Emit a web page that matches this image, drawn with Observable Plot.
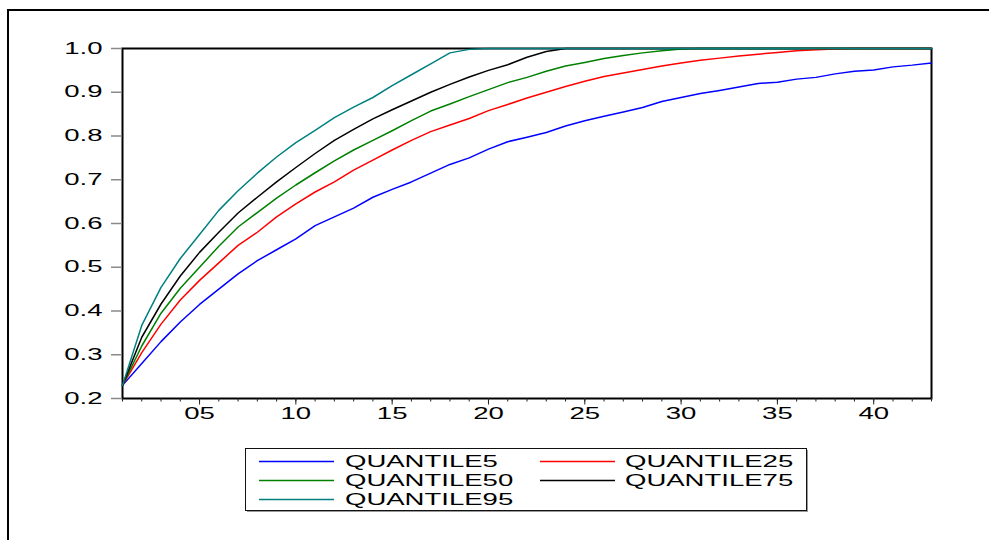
<!DOCTYPE html>
<html>
<head>
<meta charset="utf-8">
<script src="https://cdn.jsdelivr.net/npm/d3@7"></script>
<script src="https://cdn.jsdelivr.net/npm/@observablehq/plot@0.6"></script>
<style>
  html, body { margin: 0; padding: 0; background: #fff; }
  #page { position: relative; width: 989px; height: 540px; overflow: hidden; background: #fff;
          font-family: "Liberation Sans", Arial, sans-serif; color: #000; }
  #outer { position: absolute; left: 7px; top: 9px; right: -10px; bottom: -10px;
           border-left: 2px solid #000; border-top: 2px solid #000; }
  #chart { position: absolute; left: 0; top: 0; }
  #legend { position: absolute; left: 245px; top: 448px; }
</style>
</head>
<body>
<div id="page">
  <div id="outer"></div>
  <div id="chart"></div>
  <div id="legend"></div>
</div>
<script>
// Horizon 1..43 and the quantiles of the cumulative share
const steps = d3.range(1, 44);

const q5 = [0.23, 0.28, 0.33, 0.375, 0.415, 0.45, 0.485, 0.515, 0.54, 0.565,
            0.595, 0.615, 0.635, 0.66, 0.678, 0.695, 0.715, 0.735, 0.75, 0.77,
            0.787, 0.797, 0.808, 0.823, 0.835, 0.845, 0.855, 0.865, 0.879, 0.888,
            0.897, 0.904, 0.912, 0.92, 0.923, 0.93, 0.934, 0.942, 0.948, 0.951,
            0.958, 0.962, 0.967];
const q25 = [0.23, 0.305, 0.37, 0.425, 0.47, 0.51, 0.55, 0.58, 0.615, 0.645,
             0.672, 0.695, 0.722, 0.745, 0.768, 0.79, 0.81, 0.825, 0.84, 0.858,
             0.872, 0.887, 0.9, 0.913, 0.925, 0.936, 0.944, 0.952, 0.96, 0.967,
             0.973, 0.978, 0.983, 0.987, 0.991, 0.995, 0.997, 0.999, 1.0, 1.0,
             1.0, 1.0, 1.0];
const q50 = [0.23, 0.32, 0.395, 0.452, 0.5, 0.548, 0.592, 0.625, 0.658, 0.688,
             0.716, 0.743, 0.768, 0.79, 0.812, 0.835, 0.857, 0.873, 0.89, 0.906,
             0.922, 0.934, 0.948, 0.96, 0.968, 0.977, 0.984, 0.99, 0.995, 0.999,
             1.0, 1.0, 1.0, 1.0, 1.0, 1.0, 1.0, 1.0, 1.0, 1.0,
             1.0, 1.0, 1.0];
const q75 = [0.23, 0.34, 0.416, 0.48, 0.534, 0.58, 0.624, 0.66, 0.695, 0.728,
             0.76, 0.79, 0.815, 0.839, 0.86, 0.88, 0.9, 0.918, 0.935, 0.95,
             0.963, 0.98, 0.993, 1.0, 1.0, 1.0, 1.0, 1.0, 1.0, 1.0,
             1.0, 1.0, 1.0, 1.0, 1.0, 1.0, 1.0, 1.0, 1.0, 1.0,
             1.0, 1.0, 1.0];
const q95 = [0.23, 0.367, 0.454, 0.52, 0.575, 0.63, 0.675, 0.715, 0.752, 0.785,
             0.813, 0.842, 0.866, 0.888, 0.915, 0.94, 0.965, 0.99, 0.998, 1.0,
             1.0, 1.0, 1.0, 1.0, 1.0, 1.0, 1.0, 1.0, 1.0, 1.0,
             1.0, 1.0, 1.0, 1.0, 1.0, 1.0, 1.0, 1.0, 1.0, 1.0,
             1.0, 1.0, 1.0];

const seriesNames = ["QUANTILE5", "QUANTILE25", "QUANTILE50", "QUANTILE75", "QUANTILE95"];
const seriesValues = [q5, q25, q50, q75, q95];
const seriesColors = ["#0000ff", "#ff0000", "#008000", "#000000", "#008080"];

const yTicks = [0.2, 0.3, 0.4, 0.5, 0.6, 0.7, 0.8, 0.9, 1.0];
const xMajorTicks = [5, 10, 15, 20, 25, 30, 35, 40];
const xTickLabels = ["05", "10", "15", "20", "25", "30", "35", "40"];

const rows = seriesNames.flatMap((name, i) =>
  steps.map((t, j) => ({series: name, step: t, value: seriesValues[i][j]})));

const fontStack = "Liberation Sans, Arial, sans-serif";

const chart = Plot.plot({
  width: 989,
  height: 430,
  marginLeft: 122,
  marginRight: 58,
  marginTop: 48,
  marginBottom: 32,
  style: {fontFamily: fontStack, fontSize: "16px", color: "#000", background: "transparent"},
  x: {domain: [1, 43]},
  y: {domain: [0.2, 1.0]},
  color: {domain: seriesNames, range: seriesColors},
  marks: [
    Plot.frame({stroke: "#000", strokeWidth: 2}),
    Plot.axisY(yTicks, {tickSize: 11, tickPadding: 9, tickFormat: d3.format(".1f"),
                        stroke: "#8a8a8a", strokeWidth: 1.5, fill: "#000", label: null, fontSize: 16}),
    Plot.axisX(steps, {tickSize: 3.5, tickFormat: () => "", label: null, stroke: "#222"}),
    Plot.axisX(xMajorTicks, {tickSize: 6.5, tickPadding: 3,
                             tickFormat: d => xTickLabels[xMajorTicks.indexOf(d)],
                             label: null, stroke: "#222", fill: "#000", fontSize: 16}),
    Plot.line(rows, {x: "step", y: "value", z: "series", stroke: "series", strokeWidth: 1.5})
  ]
});
document.getElementById("chart").appendChild(chart);

// widen text horizontally, keeping its anchor
function widen(sel) {
  sel.each(function () {
    if (!this.textContent) return;
    const len = this.getComputedTextLength();
    this.setAttribute("textLength", (len * 1.72).toFixed(1));
    this.setAttribute("lengthAdjust", "spacingAndGlyphs");
  });
}
widen(d3.select(chart).selectAll("text"));

// legend: boxed, two columns filled row by row
const lw = 564, lh = 65;
const legend = d3.select("#legend").append("svg")
  .attr("width", lw).attr("height", lh)
  .style("font-family", fontStack).style("font-size", "16px");
legend.append("rect").attr("x", 2).attr("y", 2).attr("width", lw - 3).attr("height", lh - 3).attr("fill", "#999");
legend.append("rect").attr("x", 0.5).attr("y", 0.5).attr("width", lw - 3).attr("height", lh - 3)
  .attr("fill", "#fff").attr("stroke", "#111");
const colKey = [14, 295], colText = [100, 380], rowY = [13, 32, 51];
seriesNames.forEach((name, i) => {
  const c = i % 2, r = Math.floor(i / 2);
  legend.append("line")
    .attr("x1", colKey[c]).attr("x2", colKey[c] + 75)
    .attr("y1", rowY[r] + 0.5).attr("y2", rowY[r] + 0.5)
    .attr("stroke", seriesColors[i]).attr("stroke-width", 1.5);
  legend.append("text")
    .attr("x", colText[c]).attr("y", rowY[r]).attr("dy", "0.36em")
    .attr("fill", "#000").text(name);
});
widen(legend.selectAll("text"));
</script>
</body>
</html>
